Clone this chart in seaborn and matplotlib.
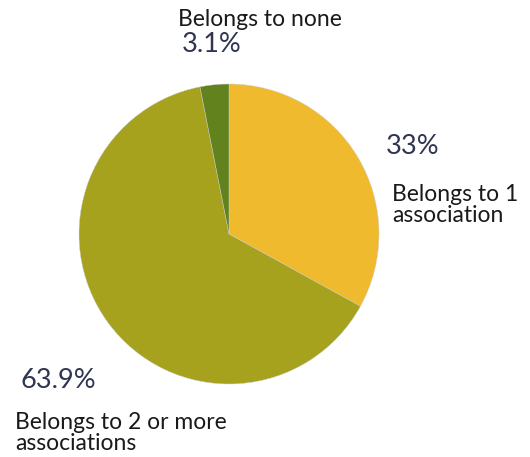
import matplotlib
matplotlib.use("Agg")
import matplotlib.pyplot as plt
import seaborn as sns

categories = ["Belongs to 1\nassociation", "Belongs to 2 or more\nassociations", "Belongs to none"]
shares = [33.0, 63.9, 3.1]
pct_labels = ["33%", "63.9%", "3.1%"]
colors = ["#F0BA2E", "#A7A21D", "#62821E"]

sns.set_theme(style="white")
plt.rcParams["font.family"] = ["Lato", "DejaVu Sans"]

fig = plt.figure(figsize=(5.3, 4.57), dpi=100)
ax = fig.add_axes([0, 0, 1, 1])
ax.pie(shares, colors=colors, startangle=90, counterclock=False, radius=1,
       wedgeprops=dict(edgecolor="#cfcfcf", linewidth=0.3))

# layout in data units: radius 1 = 150 px, centre at (229, 234)
ax.set_xlim(-229 / 150, (530 - 229) / 150)
ax.set_ylim(-(457 - 234) / 150, 234 / 150)
ax.set_aspect("auto")
ax.axis("off")

label_pos = [(1.087, 0.193), (-1.427, -1.327), (-0.34, 1.43)]
pct_pos = [(1.043, 0.58), (-1.393, -0.98), (-0.313, 1.26)]

for cat, (x, y) in zip(categories, label_pos):
    ax.text(x, y, cat, ha="left", va="center", fontsize=16.5,
            color="#1a1a1a", linespacing=1.02)
for pct, (x, y) in zip(pct_labels, pct_pos):
    ax.text(x, y, pct, ha="left", va="center", fontsize=19.5, color="#2f3552")

fig.savefig("out.png", dpi=100)
plt.close(fig)
